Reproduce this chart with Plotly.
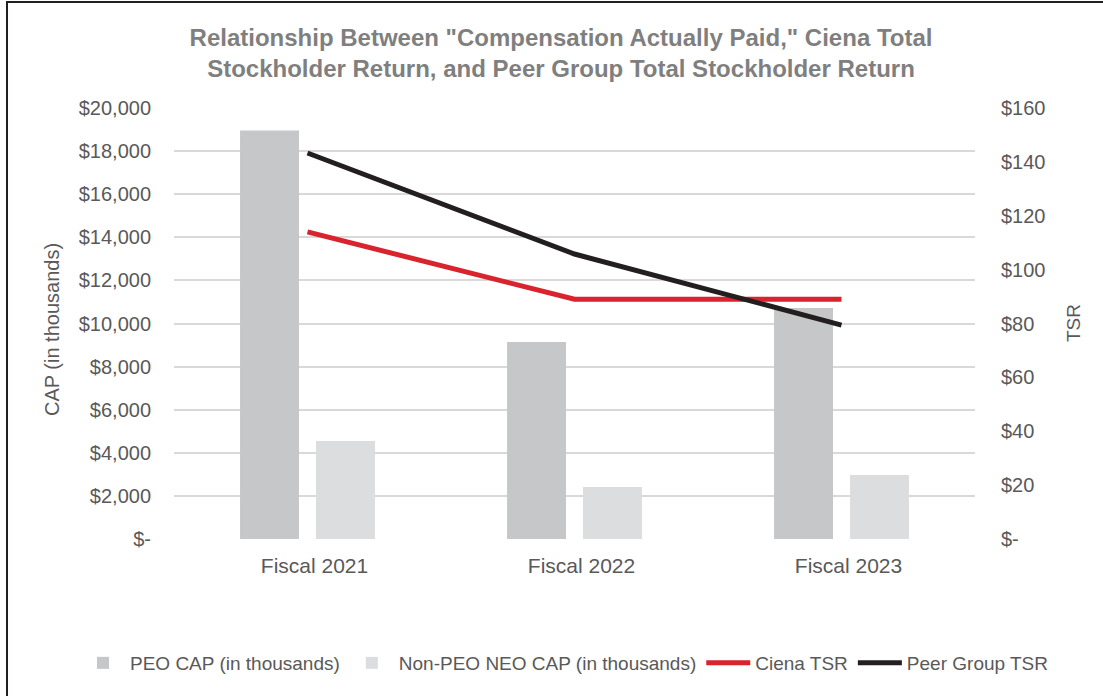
import plotly.graph_objects as go

categories = ["Fiscal 2021", "Fiscal 2022", "Fiscal 2023"]
peo_cap = [18960, 9140, 10720]
non_peo_cap = [4550, 2410, 2970]
ciena_tsr = [114, 89, 89]
peer_tsr = [143.3, 105.8, 79.4]

left_ticks = list(range(0, 20001, 2000))
left_text = ["$-"] + [f"${v:,}" for v in left_ticks[1:]]
right_ticks = list(range(0, 161, 20))
right_text = ["$-"] + [f"${v}" for v in right_ticks[1:]]

FONT = "Liberation Sans, Arial, sans-serif"
GREY = "#595959"

W, H = 1103, 696
L, R, T, B = 174, 128, 108, 157
PW, PH = W - L - R, H - T - B

fig = go.Figure()
fig.add_trace(go.Bar(x=categories, y=peo_cap, name="PEO CAP (in thousands)",
                     marker=dict(color="#c6c7c9", line=dict(width=0))))
fig.add_trace(go.Bar(x=categories, y=non_peo_cap, name="Non-PEO NEO CAP (in thousands)",
                     marker=dict(color="#dcdddf", line=dict(width=0))))
fig.add_trace(go.Scatter(x=categories, y=ciena_tsr, name="Ciena TSR", mode="lines",
                         line=dict(color="#d9232d", width=5), yaxis="y2"))
fig.add_trace(go.Scatter(x=categories, y=peer_tsr, name="Peer Group TSR", mode="lines",
                         line=dict(color="#231f20", width=5), yaxis="y2"))

fig.update_layout(
    template="none",
    width=W, height=H,
    margin=dict(l=L, r=R, t=T, b=B, pad=0, autoexpand=False),
    paper_bgcolor="white", plot_bgcolor="white",
    font=dict(family=FONT, size=20, color=GREY),
    title=dict(text="Relationship Between \"Compensation Actually Paid,\" Ciena Total<br>Stockholder Return, and Peer Group Total Stockholder Return",
               xref="container", yref="container",
               x=561 / W, xanchor="center", y=1 - 45.5 / H, yanchor="middle",
               font=dict(family=FONT, size=24, color="#7f7f7f", weight="bold")),
    barmode="group", bargap=0.431, bargroupgap=0.224,
    xaxis=dict(range=[-0.5, 2.5], showgrid=False, showline=False, zeroline=False,
               ticks="", ticklabelstandoff=12, ticklabelshift=7, automargin=False,
               tickfont=dict(size=21, color=GREY)),
    yaxis=dict(range=[0, 20000], tickvals=left_ticks, ticktext=left_text,
               showgrid=True, gridcolor="#d9d9d9", gridwidth=1.5, zeroline=False,
               showline=False, ticks="", ticklabelstandoff=22, automargin=False,
               tickfont=dict(size=20, color=GREY)),
    yaxis2=dict(range=[0, 160], tickvals=right_ticks, ticktext=right_text,
                overlaying="y", side="right", showgrid=False, zeroline=False,
                showline=False, ticks="", ticklabelstandoff=25, automargin=False,
                tickfont=dict(size=20, color=GREY)),
    legend=dict(orientation="h", x=(76 - L) / PW, xanchor="left",
                y=-(663 - (T + PH)) / PH, yanchor="middle",
                font=dict(size=19, color=GREY), traceorder="normal", itemwidth=44,
                bgcolor="rgba(0,0,0,0)"),
    showlegend=True,
)

fig.add_annotation(text="CAP (in thousands)", textangle=-90, xref="paper", yref="paper",
                   x=(52 - L) / PW, y=(T + PH - 329) / PH, xanchor="center", yanchor="middle",
                   showarrow=False, font=dict(size=20, color=GREY))
fig.add_annotation(text="TSR", textangle=-90, xref="paper", yref="paper",
                   x=(1073 - L) / PW, y=(T + PH - 323) / PH, xanchor="center", yanchor="middle",
                   showarrow=False, font=dict(size=19, color=GREY))

fig.add_shape(type="rect", xref="paper", yref="paper",
              x0=(7 - L) / PW, x1=(1115 - L) / PW,
              y0=(T + PH - 710) / PH, y1=(T + PH - 2) / PH,
              line=dict(color="#231f20", width=2), fillcolor="rgba(0,0,0,0)", layer="below")

fig.write_html("out.html", config={"displayModeBar": False},
               post_script="document.body.style.margin='0';")
